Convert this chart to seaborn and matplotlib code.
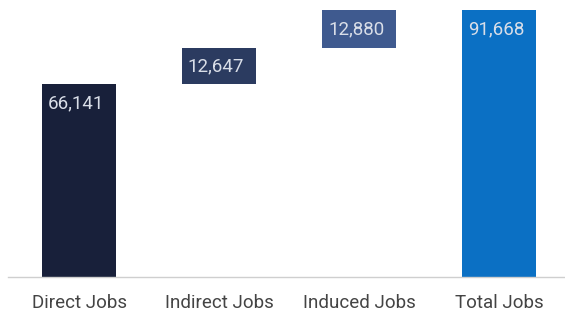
import numpy as np
import pandas as pd
import matplotlib
matplotlib.use("Agg")
import matplotlib.pyplot as plt
import seaborn as sns

categories = ["Direct Jobs", "Indirect Jobs", "Induced Jobs", "Total Jobs"]
values = [66141, 12647, 12880, 91668]
is_total = [False, False, False, True]
colors = ["#18203a", "#2b3b60", "#3f5a8f", "#0b70c4"]

# waterfall bottoms: running sum for the steps, zero for the total
bottoms = []
running = 0
for v, tot in zip(values, is_total):
    if tot:
        bottoms.append(0)
    else:
        bottoms.append(running)
        running += v
tops = [b + v for b, v in zip(bottoms, values)]

df = pd.DataFrame({"category": categories, "top": tops, "bottom": bottoms, "value": values})

sns.set_style("white")
plt.rcParams["font.family"] = ["Roboto", "DejaVu Sans"]

fig = plt.figure(figsize=(5.65, 3.15), dpi=100)
ax = fig.add_axes([8 / 565, 38 / 315, 557 / 565, 267 / 315])

sns.barplot(data=df, x="category", y="top", hue="category", palette=colors,
            legend=False, width=0.53, saturation=1, ax=ax)

# move the step bars up so they float
for patch, b, v in zip(ax.patches, df["bottom"], df["value"]):
    patch.set_y(b)
    patch.set_height(v)
    patch.set_linewidth(0)

for i, (t, v) in enumerate(zip(df["top"], df["value"])):
    ax.annotate(f"{v:,}", xy=(i, t), xytext=(-3, -19), textcoords="offset pixels",
                ha="center", va="center", color="#d9dee8", fontsize=13.5)

ax.set_xlim(-0.507, 3.47)
ax.set_ylim(0, 91668)
ax.set_yticks([])
ax.set_xlabel("")
ax.set_ylabel("")
for s in ["top", "right", "left"]:
    ax.spines[s].set_visible(False)
ax.spines["bottom"].set_color("#cfcfcf")
ax.spines["bottom"].set_linewidth(1)
ax.tick_params(axis="x", length=0, pad=12, labelsize=13.5, labelcolor="#444444")

fig.savefig("out.png", dpi=100)
